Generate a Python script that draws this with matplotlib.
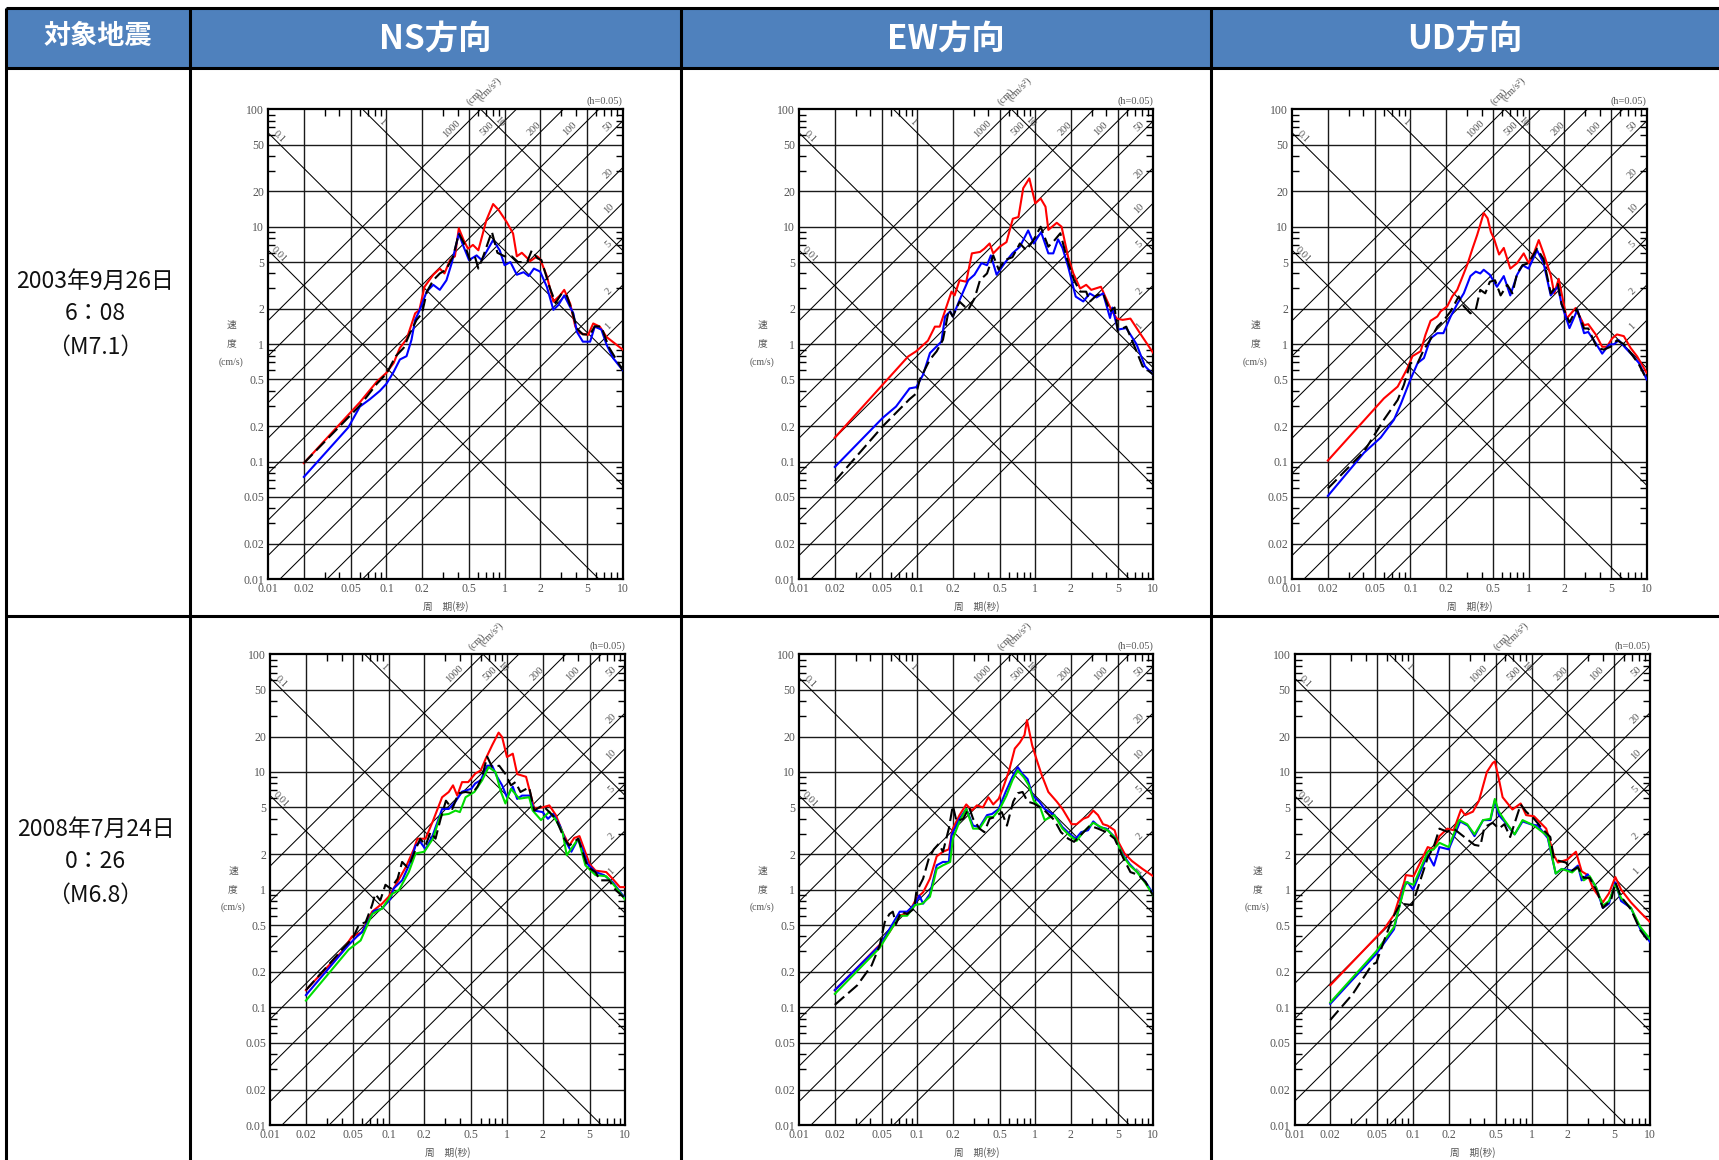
import numpy as np
import matplotlib.pyplot as plt
from matplotlib.patches import Rectangle
from matplotlib.ticker import LogLocator, NullFormatter

W, H = 1719, 1160
JP = ['Noto Sans CJK JP', 'DejaVu Sans']
SERIF = ['Liberation Serif', 'DejaVu Serif']
GRAY = '#555555'
HEAD_BLUE = '#4F81BD'

headers = ['対象地震', 'NS方向', 'EW方向', 'UD方向']
events = [['2003年9月26日', '6：08', '（M7.1）'],
          ['2008年7月24日', '0：26', '（M6.8）']]

period_ticks = [0.01, 0.02, 0.05, 0.1, 0.2, 0.5, 1, 2, 5, 10]
period_labels = ['0.01', '0.02', '0.05', '0.1', '0.2', '0.5', '1', '2', '5', '10']
vel_ticks = [0.01, 0.02, 0.05, 0.1, 0.2, 0.5, 1, 2, 5, 10, 20, 50, 100]
vel_labels = ['0.01', '0.02', '0.05', '0.1', '0.2', '0.5', '1', '2', '5', '10', '20', '50', '100']
acc_levels = [1, 2, 5, 10, 20, 50, 100, 200, 500, 1000]      # cm/s^2
disp_levels = [0.01, 0.1, 1, 10]                            # cm

# ---- 2003/9/26 (period [s], pseudo velocity [cm/s]) ----
ns03_red = [(0.02,0.097),(0.0596,0.32),(0.083,0.48),(0.1,0.57),(0.115,0.69),(0.13,0.93),(0.148,1.1),(0.175,1.83),(0.19,1.95),(0.21,3.08),(0.249,3.9),(0.283,4.4),(0.31,4.0),(0.345,5.2),(0.38,5.6),(0.41,9.7),(0.45,7.7),(0.49,6.5),(0.54,7.0),(0.6,6.3),(0.7,11.3),(0.8,15.6),(0.89,13.9),(1.04,11.0),(1.18,8.76),(1.27,5.6),(1.4,6.0),(1.65,5.1),(1.89,5.6),(2.0,5.3),(2.28,3.8),(2.59,2.3),(2.95,2.6),(3.2,2.9),(3.6,2.2),(3.97,1.41),(4.35,1.24),(5.1,1.2),(5.63,1.5),(6.4,1.41),(7.3,1.15),(10,0.9)]
ns03_blue = [(0.02,0.074),(0.0475,0.195),(0.0596,0.294),(0.0725,0.34),(0.088,0.40),(0.1,0.46),(0.115,0.58),(0.13,0.74),(0.148,0.79),(0.163,1.09),(0.175,1.61),(0.19,1.92),(0.219,2.8),(0.249,3.2),(0.283,2.9),(0.322,3.5),(0.357,4.9),(0.41,8.76),(0.45,6.76),(0.5,5.2),(0.58,5.7),(0.64,5.2),(0.8,7.7),(0.91,6.3),(1.0,4.7),(1.12,5.0),(1.27,3.9),(1.45,4.1),(1.6,3.8),(1.77,4.4),(2.0,4.15),(2.28,3.08),(2.59,1.96),(2.85,2.15),(3.2,2.6),(3.82,1.83),(4.1,1.27),(4.6,1.05),(5.3,1.05),(5.8,1.41),(6.6,1.33),(7.3,0.99),(8.3,0.76),(10,0.6)]
ns03_black = [(0.02,0.097),(0.0596,0.30),(0.083,0.46),(0.1,0.56),(0.12,0.79),(0.14,0.93),(0.158,1.24),(0.18,1.61),(0.2,1.83),(0.22,2.8),(0.249,3.5),(0.283,4.0),(0.32,4.3),(0.367,5.6),(0.41,8.76),(0.455,7.2),(0.51,5.2),(0.56,5.6),(0.6,4.4),(0.66,5.6),(0.78,9.1),(0.87,6.0),(1.0,5.6),(1.15,5.6),(1.3,5.0),(1.55,5.0),(1.7,6.3),(1.89,5.4),(2.05,5.2),(2.4,3.08),(2.7,2.24),(3.05,2.71),(3.36,2.6),(3.7,1.96),(4.1,1.36),(4.6,1.21),(5.3,1.21),(5.8,1.42),(6.6,1.41),(7.6,0.95),(10,0.6)]

ew03_red = [(0.02,0.16),(0.0837,0.786),(0.098,0.87),(0.123,1.07),(0.141,1.41),(0.155,1.41),(0.177,2.1),(0.195,2.8),(0.207,2.6),(0.228,3.5),(0.26,3.4),(0.29,5.93),(0.34,6.1),(0.37,6.5),(0.41,7.2),(0.44,5.93),(0.5,6.76),(0.57,7.4),(0.645,11.7),(0.72,12.1),(0.79,21.3),(0.89,25.8),(1.0,15.8),(1.11,17.4),(1.22,14.8),(1.29,9.4),(1.52,10.8),(1.67,10.0),(1.9,5.5),(2.1,4.0),(2.4,2.98),(2.7,3.2),(2.98,2.9),(3.6,3.08),(4.0,2.42),(4.4,1.96),(4.9,1.65),(5.5,1.61),(6.4,1.65),(8.1,1.15),(10,0.84)]
ew03_blue = [(0.02,0.09),(0.051,0.236),(0.066,0.294),(0.086,0.42),(0.098,0.43),(0.112,0.55),(0.128,0.84),(0.16,1.05),(0.172,1.72),(0.19,1.9),(0.2,1.72),(0.228,2.37),(0.27,3.5),(0.305,3.9),(0.35,4.9),(0.39,4.7),(0.42,5.7),(0.47,3.9),(0.55,4.9),(0.64,5.93),(0.74,6.76),(0.87,9.3),(0.97,7.2),(1.12,9.0),(1.29,5.93),(1.42,5.93),(1.56,7.8),(1.7,6.6),(1.9,4.56),(2.2,2.54),(2.55,2.31),(2.9,2.7),(3.3,2.5),(3.75,2.71),(4.3,1.67),(4.5,2.05),(5.0,1.33),(5.9,1.37),(7.2,1.0),(8.5,0.65),(10,0.55)]
ew03_black = [(0.02,0.068),(0.051,0.2),(0.071,0.28),(0.086,0.34),(0.098,0.38),(0.105,0.5),(0.128,0.74),(0.146,0.87),(0.165,1.09),(0.185,1.96),(0.2,1.72),(0.228,2.3),(0.27,1.96),(0.305,2.44),(0.34,3.51),(0.39,4.0),(0.44,5.7),(0.49,4.3),(0.55,5.2),(0.64,5.5),(0.74,7.2),(0.84,6.3),(0.95,7.5),(1.11,10.0),(1.29,6.76),(1.46,7.7),(1.63,8.8),(1.87,5.2),(2.13,3.5),(2.4,2.8),(2.7,2.8),(2.9,2.3),(3.3,2.6),(3.75,2.71),(4.3,1.9),(4.7,2.05),(5.0,1.3),(5.9,1.41),(7.2,0.87),(8.1,0.65),(10,0.55)]

ud03_red = [(0.02,0.102),(0.0596,0.345),(0.078,0.435),(0.094,0.62),(0.104,0.79),(0.122,0.87),(0.134,1.2),(0.148,1.58),(0.169,1.72),(0.18,1.9),(0.205,2.1),(0.226,2.55),(0.249,2.9),(0.283,4.0),(0.305,4.85),(0.335,6.5),(0.367,8.5),(0.39,10.4),(0.417,13.1),(0.45,11.8),(0.48,9.0),(0.51,7.9),(0.563,5.8),(0.617,6.6),(0.70,4.4),(0.80,4.9),(0.91,5.93),(1.0,4.9),(1.12,6.1),(1.22,7.7),(1.34,5.93),(1.54,3.86),(1.65,2.7),(1.8,3.6),(2.1,1.65),(2.5,2.03),(2.95,1.45),(3.2,1.48),(3.7,1.21),(4.2,0.95),(4.6,0.95),(5.1,1.12),(5.6,1.21),(6.4,1.17),(7.3,0.93),(8.3,0.786),(10,0.57)]
ud03_blue = [(0.02,0.051),(0.0405,0.119),(0.056,0.16),(0.0725,0.227),(0.083,0.31),(0.1,0.5),(0.115,0.69),(0.13,0.76),(0.148,1.12),(0.169,1.24),(0.19,1.24),(0.219,1.72),(0.249,2.2),(0.283,2.71),(0.322,3.8),(0.357,4.15),(0.39,4.0),(0.417,4.3),(0.47,3.9),(0.54,3.08),(0.617,3.8),(0.70,2.6),(0.80,3.9),(0.89,4.7),(1.0,4.4),(1.18,6.3),(1.34,4.9),(1.54,2.6),(1.77,3.1),(1.9,2.2),(2.22,1.37),(2.59,1.96),(2.95,1.24),(3.2,1.27),(3.7,1.02),(4.2,0.83),(4.8,0.99),(5.3,1.0),(5.8,1.08),(6.6,0.93),(7.6,0.8),(8.6,0.69),(10,0.5)]
ud03_black = [(0.02,0.059),(0.0405,0.122),(0.0596,0.227),(0.078,0.335),(0.088,0.45),(0.1,0.69),(0.115,0.69),(0.13,0.9),(0.148,1.1),(0.169,1.41),(0.19,1.58),(0.219,1.9),(0.256,2.55),(0.283,2.1),(0.322,1.83),(0.357,1.96),(0.39,2.9),(0.43,2.71),(0.47,3.4),(0.52,3.5),(0.58,2.6),(0.66,3.2),(0.73,2.71),(0.80,4.0),(0.89,4.7),(1.0,4.9),(1.18,6.5),(1.34,5.3),(1.54,2.71),(1.77,3.25),(1.9,2.2),(2.22,1.53),(2.55,2.0),(2.95,1.36),(3.2,1.36),(3.82,0.92),(4.35,0.9),(4.95,0.95),(5.6,1.08),(6.4,1.0),(7.6,0.8),(8.6,0.67),(10,0.5)]

# ---- 2008/7/24 ----
ns08_red = [(0.02,0.14),(0.0405,0.3),(0.049,0.4),(0.0596,0.435),(0.0725,0.65),(0.088,0.76),(0.1,0.87),(0.115,1.1),(0.14,1.56),(0.163,2.2),(0.175,2.71),(0.205,2.71),(0.236,3.8),(0.283,6.1),(0.322,6.76),(0.35,7.7),(0.38,6.3),(0.417,8.2),(0.47,8.2),(0.54,9.7),(0.6,10.3),(0.66,12.9),(0.75,16.9),(0.85,21.6),(0.91,19.8),(1.0,13.4),(1.12,14.3),(1.22,9.6),(1.45,9.1),(1.7,4.9),(2.0,5.0),(2.28,5.2),(2.59,4.3),(2.95,3.08),(3.36,2.37),(3.7,2.75),(4.1,2.85),(4.5,2.2),(5.0,1.65),(5.6,1.45),(6.9,1.41),(7.8,1.24),(9.0,1.05),(10,1.05)]
ns08_blue = [(0.02,0.127),(0.046,0.34),(0.054,0.4),(0.0596,0.435),(0.075,0.66),(0.088,0.69),(0.104,0.84),(0.11,1.02),(0.13,1.2),(0.153,1.72),(0.169,2.37),(0.185,2.55),(0.205,2.2),(0.236,2.9),(0.283,4.85),(0.322,4.85),(0.367,5.6),(0.417,6.8),(0.5,7.2),(0.54,8.0),(0.6,8.5),(0.68,11.3),(0.75,11.3),(0.82,9.2),(0.91,7.7),(1.0,6.1),(1.12,7.5),(1.22,5.9),(1.34,6.3),(1.54,6.3),(1.7,4.7),(2.0,4.56),(2.22,4.0),(2.45,4.4),(2.8,3.5),(3.15,2.55),(3.5,2.1),(4.0,2.71),(4.35,2.2),(4.8,1.65),(5.6,1.41),(6.6,1.33),(7.8,1.16),(10,0.84)]
ns08_green = [(0.02,0.114),(0.046,0.31),(0.058,0.37),(0.0725,0.62),(0.088,0.69),(0.107,0.92),(0.122,0.99),(0.148,1.41),(0.169,2.03),(0.2,2.1),(0.236,2.7),(0.275,4.3),(0.322,4.4),(0.367,4.7),(0.4,4.56),(0.447,6.1),(0.53,6.76),(0.617,8.5),(0.7,11.0),(0.8,10.0),(0.89,6.76),(0.97,5.4),(1.08,7.2),(1.27,5.93),(1.54,6.1),(1.65,4.7),(1.94,3.9),(2.28,4.6),(2.59,3.9),(2.95,3.08),(3.2,1.96),(4.0,2.71),(4.6,1.61),(5.6,1.33),(6.9,1.3),(8.3,1.05),(10,0.82)]
ns08_black = [(0.02,0.14),(0.0405,0.31),(0.05,0.39),(0.056,0.5),(0.064,0.53),(0.0725,0.74),(0.077,0.92),(0.085,0.81),(0.094,1.1),(0.104,1.02),(0.119,1.24),(0.13,1.72),(0.143,1.56),(0.153,1.72),(0.169,2.2),(0.185,2.71),(0.205,2.37),(0.226,3.08),(0.249,2.71),(0.275,4.0),(0.305,5.7),(0.345,4.85),(0.39,6.6),(0.447,6.76),(0.51,6.6),(0.563,7.5),(0.617,9.1),(0.68,13.5),(0.75,11.0),(0.86,11.3),(0.97,9.6),(1.08,7.7),(1.18,8.2),(1.3,6.76),(1.54,7.4),(1.7,4.7),(2.0,5.2),(2.28,4.56),(2.59,4.0),(3.05,2.71),(3.36,2.37),(4.0,2.71),(4.8,1.56),(5.6,1.41),(6.1,1.2),(7.3,1.2),(8.3,0.99),(10,0.84)]

ew08_red = [(0.02,0.14),(0.031,0.217),(0.048,0.34),(0.058,0.435),(0.071,0.6),(0.086,0.65),(0.098,0.84),(0.112,0.95),(0.128,1.24),(0.146,1.92),(0.165,2.1),(0.185,2.2),(0.2,3.3),(0.228,4.3),(0.26,5.3),(0.29,4.7),(0.32,5.2),(0.36,5.0),(0.4,6.1),(0.44,5.3),(0.49,5.93),(0.53,7.2),(0.6,10.3),(0.67,15.8),(0.74,17.8),(0.81,20.6),(0.85,27.6),(0.94,16.9),(1.03,12.6),(1.13,9.5),(1.29,6.76),(1.52,5.6),(1.7,4.85),(2.03,3.6),(2.24,3.6),(2.55,4.0),(2.8,4.15),(3.1,4.7),(3.4,4.3),(3.75,3.6),(4.1,3.5),(4.7,3.2),(5.0,2.6),(5.7,2.03),(6.6,1.75),(8.1,1.5),(10,1.3)]
ew08_blue = [(0.02,0.14),(0.048,0.335),(0.058,0.46),(0.071,0.65),(0.082,0.65),(0.096,0.76),(0.104,0.89),(0.112,0.76),(0.128,0.92),(0.146,1.61),(0.165,1.72),(0.185,1.72),(0.195,2.9),(0.228,4.0),(0.26,4.85),(0.297,3.5),(0.337,3.4),(0.39,4.3),(0.43,4.4),(0.49,4.85),(0.56,6.76),(0.64,9.1),(0.71,11.0),(0.78,9.6),(0.86,8.7),(0.95,6.3),(1.08,5.6),(1.2,4.85),(1.45,4.3),(1.7,3.4),(1.94,3.0),(2.2,2.71),(2.45,3.08),(2.8,3.2),(3.1,3.8),(3.5,3.4),(4.0,3.3),(4.7,2.8),(5.5,2.0),(6.3,1.65),(7.3,1.41),(8.6,1.16),(10,0.92)]
ew08_green = [(0.02,0.13),(0.048,0.32),(0.058,0.435),(0.071,0.6),(0.082,0.6),(0.096,0.74),(0.11,0.76),(0.128,0.87),(0.146,1.5),(0.165,1.61),(0.19,1.72),(0.2,2.7),(0.228,3.8),(0.26,4.85),(0.297,3.3),(0.337,3.3),(0.39,4.15),(0.44,4.15),(0.5,4.85),(0.57,6.3),(0.64,8.5),(0.71,10.3),(0.8,9.0),(0.88,7.7),(0.97,5.7),(1.1,5.0),(1.2,3.9),(1.45,4.3),(1.7,3.3),(1.94,2.9),(2.24,2.6),(2.55,3.08),(3.1,3.7),(3.6,3.4),(4.1,3.2),(4.8,2.71),(5.5,1.96),(6.3,1.61),(7.3,1.41),(8.6,1.13),(10,0.89)]
ew08_black = [(0.02,0.105),(0.031,0.154),(0.041,0.227),(0.048,0.335),(0.053,0.53),(0.058,0.62),(0.062,0.65),(0.066,0.51),(0.073,0.65),(0.082,0.62),(0.094,0.69),(0.098,0.95),(0.112,1.24),(0.125,1.83),(0.138,2.2),(0.152,2.45),(0.165,2.1),(0.185,3.3),(0.2,5.2),(0.215,3.8),(0.245,4.0),(0.275,5.0),(0.297,4.0),(0.337,3.3),(0.37,3.08),(0.41,4.0),(0.455,4.15),(0.52,4.56),(0.575,3.5),(0.65,5.6),(0.71,6.6),(0.78,6.76),(0.86,5.6),(0.97,5.4),(1.1,5.0),(1.2,4.7),(1.45,3.9),(1.65,3.08),(1.9,2.71),(2.13,2.55),(2.5,3.0),(2.9,3.5),(3.4,3.3),(4.0,3.08),(4.7,2.71),(5.6,1.83),(6.4,1.41),(7.5,1.33),(8.6,1.16),(10,0.89)]

ud08_red = [(0.02,0.154),(0.057,0.464),(0.069,0.61),(0.084,1.15),(0.087,1.33),(0.101,1.3),(0.133,2.3),(0.149,2.2),(0.167,2.85),(0.195,3.3),(0.22,3.2),(0.254,4.8),(0.275,4.3),(0.32,4.6),(0.36,5.7),(0.42,10.0),(0.47,11.9),(0.49,12.3),(0.53,8.7),(0.57,6.1),(0.69,4.8),(0.81,5.4),(0.9,4.3),(1.05,4.2),(1.33,3.3),(1.55,1.94),(1.67,1.7),(2.0,1.8),(2.37,2.1),(2.65,1.43),(2.98,1.33),(3.3,1.03),(4.0,0.78),(4.5,0.93),(5.1,1.28),(5.7,1.0),(6.9,0.78),(8.3,0.64),(10,0.53)]
ud08_blue = [(0.02,0.107),(0.049,0.285),(0.069,0.46),(0.084,1.07),(0.09,1.16),(0.1,1.0),(0.133,2.0),(0.15,1.6),(0.167,2.3),(0.2,2.2),(0.25,3.8),(0.29,3.5),(0.33,2.85),(0.39,3.9),(0.45,3.9),(0.49,5.7),(0.53,4.3),(0.59,3.8),(0.72,2.95),(0.84,3.8),(0.98,3.6),(1.13,3.5),(1.37,2.75),(1.6,1.37),(1.8,1.5),(2.2,1.45),(2.46,1.6),(2.65,1.2),(2.98,1.35),(3.5,1.05),(4.0,0.7),(4.5,0.76),(5.1,1.15),(5.7,0.8),(6.9,0.7),(8.3,0.46),(10,0.36)]
ud08_green = [(0.02,0.11),(0.049,0.3),(0.069,0.48),(0.087,1.16),(0.101,1.1),(0.133,2.1),(0.149,2.2),(0.167,2.5),(0.2,2.3),(0.245,3.9),(0.286,3.6),(0.33,2.95),(0.39,3.9),(0.45,4.0),(0.49,5.9),(0.53,4.6),(0.59,3.9),(0.72,2.95),(0.84,3.9),(1.05,3.5),(1.37,2.85),(1.6,1.37),(1.8,1.5),(2.2,1.4),(2.46,1.55),(2.76,1.2),(3.1,1.3),(3.5,1.05),(4.0,0.73),(4.5,0.8),(5.1,1.1),(5.7,0.85),(6.9,0.7),(8.3,0.48),(10,0.38)]
ud08_black = [(0.02,0.078),(0.031,0.13),(0.045,0.23),(0.049,0.24),(0.057,0.37),(0.067,0.57),(0.078,0.76),(0.098,0.74),(0.106,0.93),(0.133,1.87),(0.149,2.3),(0.167,3.3),(0.195,3.1),(0.22,3.3),(0.265,2.85),(0.33,2.4),(0.37,2.35),(0.4,3.4),(0.47,3.7),(0.53,3.3),(0.59,3.6),(0.66,2.8),(0.81,5.3),(0.9,4.6),(1.05,4.0),(1.23,3.3),(1.44,2.8),(1.55,1.8),(1.95,1.7),(2.2,1.45),(2.46,1.55),(2.76,1.26),(3.1,1.26),(3.6,0.95),(4.0,0.7),(4.7,0.82),(5.1,1.15),(5.7,0.87),(6.9,0.68),(8.3,0.45),(10,0.35)]

charts = [
    [[('red', ns03_red), ('blue', ns03_blue), ('black', ns03_black)],
     [('red', ew03_red), ('blue', ew03_blue), ('black', ew03_black)],
     [('red', ud03_red), ('blue', ud03_blue), ('black', ud03_black)]],
    [[('red', ns08_red), ('blue', ns08_blue), ('green', ns08_green), ('black', ns08_black)],
     [('red', ew08_red), ('blue', ew08_blue), ('green', ew08_green), ('black', ew08_black)],
     [('red', ud08_red), ('blue', ud08_blue), ('green', ud08_green), ('black', ud08_black)]],
]
line_colors = {'red': '#FF0000', 'blue': '#0000FF', 'green': '#00DD00', 'black': '#000000'}

# axes boxes in pixels (left, top, right, bottom)
boxes = [[(268.3, 109.3, 622.7, 579), (799.3, 109.3, 1153.3, 579), (1292.3, 109.3, 1646.7, 579)],
         [(270.3, 654.3, 625.3, 1125), (799.3, 654.3, 1153.3, 1125), (1294.6, 654.3, 1650, 1125)]]

fig = plt.figure(figsize=(W / 100, H / 100), dpi=100)
fig.patch.set_facecolor('white')

# ---- table frame ----
bg = fig.add_axes([0, 0, 1, 1])
bg.set_xlim(0, W)
bg.set_ylim(H, 0)
bg.axis('off')
col_x = [5.5, 190, 681, 1211]
head_top, head_bot, row_div = 7.7, 68, 616
bg.add_patch(Rectangle((col_x[0], head_top), W - col_x[0], head_bot - head_top,
                       facecolor=HEAD_BLUE, edgecolor='none'))
for y in [head_top, head_bot, row_div]:
    bg.plot([col_x[0], W], [y, y], color='k', lw=2.2, solid_capstyle='butt')
for x in col_x:
    bg.plot([x, x], [head_top, H], color='k', lw=2.2, solid_capstyle='butt')

bg.text((col_x[0] + col_x[1]) / 2, 36, headers[0], ha='center', va='center',
        color='white', fontsize=19.5, fontweight='bold', family=JP)
col_centers = [(col_x[1] + col_x[2]) / 2, (col_x[2] + col_x[3]) / 2, (col_x[3] + W) / 2]
for cx, h in zip(col_centers, headers[1:]):
    bg.text(cx, 39, h, ha='center', va='center', color='white',
            fontsize=24, fontweight='bold', family=JP)

for r, ev in enumerate(events):
    y0 = [281, 829][r]
    for k, line in enumerate(ev):
        bg.text(95.5, y0 + k * 33, line, ha='center', va='center',
                fontsize=16.5, family=JP, color='#111111')

# ---- tripartite charts ----
tt = np.logspace(-3, 2, 60)


def draw_chart(ax, curves):
    ax.set_xscale('log')
    ax.set_yscale('log')
    for v in vel_ticks[1:-1]:
        ax.axhline(v, color='#1a1a1a', lw=1.0, zorder=1)
    for t in period_ticks[1:-1]:
        ax.axvline(t, color='#1a1a1a', lw=1.0, zorder=1)
    for a in acc_levels:
        ax.plot(tt, a * tt / (2 * np.pi), color='k', lw=0.75, zorder=1)
    for d in disp_levels:
        ax.plot(tt, 2 * np.pi * d / tt, color='k', lw=0.75, zorder=1)

    lab = dict(fontsize=7.5, color=GRAY, family=SERIF, ha='center', va='center',
               rotation_mode='anchor', clip_on=False)
    for a in acc_levels:
        if a >= 100:
            t_top = 2 * np.pi * 100 / a
            ax.text(0.57 * t_top, 68, str(a), rotation=45, **lab)
        else:
            ax.text(7.6, 0.89 * a * 10 / (2 * np.pi), str(a), rotation=45, **lab)
    for d in disp_levels:
        t_lab = 0.0123 if d < 1 else 1.45 * 2 * np.pi * d / 100
        ax.text(t_lab, 1.14 * 2 * np.pi * d / t_lab, f'{d:g}', rotation=-45, **lab)

    for name, pts in curves:
        t, v = np.array(pts).T
        if name == 'black':
            ax.plot(t, v, color='k', lw=1.5, ls=(0, (6, 2.5)), zorder=6)
        else:
            ax.plot(t, v, color=line_colors[name], lw=1.5, zorder=5)

    ax.set_xlim(0.01, 10)
    ax.set_ylim(0.01, 100)
    ax.set_xticks(period_ticks)
    ax.set_xticklabels(period_labels)
    ax.set_yticks(vel_ticks)
    ax.set_yticklabels(vel_labels)
    ax.xaxis.set_minor_locator(LogLocator(base=10, subs=(3, 4, 6, 7, 8, 9)))
    ax.yaxis.set_minor_locator(LogLocator(base=10, subs=(3, 4, 6, 7, 8, 9)))
    ax.xaxis.set_minor_formatter(NullFormatter())
    ax.yaxis.set_minor_formatter(NullFormatter())
    ax.tick_params(which='major', length=0, pad=3, labelsize=8.5, labelcolor=GRAY)
    ax.tick_params(which='minor', direction='in', length=5, width=1.0,
                   top=True, right=True, bottom=True, left=True)
    for lb in ax.get_xticklabels() + ax.get_yticklabels():
        lb.set_family(SERIF)
    for sp in ax.spines.values():
        sp.set_linewidth(1.6)

    ax.text(1.0, 1.006, '(h=0.05)', transform=ax.transAxes, ha='right', va='bottom',
            fontsize=7.5, color=GRAY, family=SERIF)
    ax.text(0.56, 128, '(cm)', rotation=45, fontsize=7.5, color=GRAY, family=SERIF,
            ha='center', va='center', clip_on=False)
    ax.text(0.74, 148, '(cm/s²)', rotation=45, fontsize=7.5, color=GRAY, family=SERIF,
            ha='center', va='center', clip_on=False)
    for k, s in enumerate(['速', '度']):
        ax.text(-0.105, 0.54 - 0.038 * k, s, transform=ax.transAxes, ha='center',
                va='center', fontsize=7, color=GRAY, family=JP)
    ax.text(-0.105, 0.462, '(cm/s)', transform=ax.transAxes, ha='center', va='center',
            fontsize=7, color=GRAY, family=SERIF)
    ax.text(0.5, -0.058, '周\u3000期(秒)', transform=ax.transAxes, ha='center',
            va='center', fontsize=7, color=GRAY, family=JP)


for r in range(2):
    for c in range(3):
        l, t, rr, b = boxes[r][c]
        ax = fig.add_axes([l / W, 1 - b / H, (rr - l) / W, (b - t) / H])
        draw_chart(ax, charts[r][c])

fig.savefig('out.png', dpi=100)
